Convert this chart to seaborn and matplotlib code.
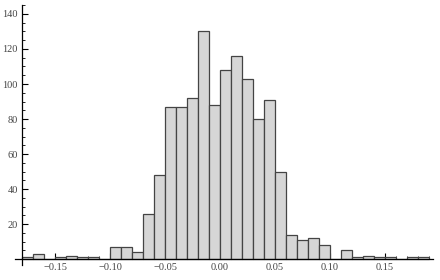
import numpy as np
import pandas as pd
import matplotlib
matplotlib.use("Agg")
import matplotlib.pyplot as plt
import seaborn as sns
from matplotlib.ticker import MultipleLocator, FuncFormatter

# bin left edges (width 0.01) and counts
bin_starts = [-0.18, -0.17, -0.16, -0.15, -0.14, -0.13, -0.12, -0.11, -0.10,
              -0.09, -0.08, -0.07, -0.06, -0.05, -0.04, -0.03, -0.02, -0.01,
              0.00, 0.01, 0.02, 0.03, 0.04, 0.05, 0.06, 0.07, 0.08, 0.09,
              0.10, 0.11, 0.12, 0.13, 0.14, 0.15, 0.16, 0.17, 0.18]
counts = [1, 3, 0, 1, 2, 1, 1, 0, 7,
          7, 4, 26, 48, 87, 87, 92, 130, 88,
          108, 116, 103, 80, 91, 50, 14, 11, 12, 8,
          0, 5, 1, 2, 1, 1, 0, 1, 1]
bin_width = 0.01

edges = list(np.round(bin_starts, 2)) + [round(bin_starts[-1] + bin_width, 2)]
df = pd.DataFrame({"x": np.array(bin_starts) + bin_width / 2, "w": counts})

sns.set_style("white")
plt.rcParams["font.family"] = ["Liberation Serif", "DejaVu Serif"]

fig = plt.figure(figsize=(4.4, 2.8), dpi=100)
ax = fig.add_axes([15 / 440, 15 / 280, (433 - 15) / 440, (265 - 5) / 280])

sns.histplot(data=df, x="x", weights="w", bins=edges, ax=ax,
             color="#d6d6d6", edgecolor="#444444", linewidth=0.9, alpha=1.0)

ax.set_xlim(-0.1864, 0.1936)
ax.set_ylim(-3.3, 145.1)
ax.set_xlabel("")
ax.set_ylabel("")

for s in ["top", "right"]:
    ax.spines[s].set_visible(False)
ax.spines["left"].set_position(("data", -0.18))
ax.spines["bottom"].set_position(("data", 0))
for s in ["left", "bottom"]:
    ax.spines[s].set_color("black")
    ax.spines[s].set_linewidth(0.9)

def xfmt(v, pos):
    s = f"{abs(v):.2f}"
    return ("\u2212" + s) if v < -1e-9 else s

def yfmt(v, pos):
    return f"{int(round(v))}"

ax.set_xticks(np.round(np.arange(-0.15, 0.16, 0.05), 2))
ax.set_xticks(np.round(np.arange(-0.17, 0.195, 0.01), 2), minor=True)
ax.set_yticks(np.arange(20, 141, 20))
ax.set_yticks([v for v in range(5, 146, 5) if v % 20 != 0], minor=True)
ax.xaxis.set_major_formatter(FuncFormatter(xfmt))
ax.yaxis.set_major_formatter(FuncFormatter(yfmt))

ax.tick_params(axis="both", which="major", direction="in", length=4, width=0.8,
               color="black", labelsize=7.5, labelcolor="#444444", pad=3)
ax.tick_params(axis="both", which="minor", direction="in", length=2, width=0.6,
               color="black")
ax.tick_params(axis="x", which="both", bottom=True)
ax.tick_params(axis="y", which="both", left=True)

fig.savefig("out.png", dpi=100)
